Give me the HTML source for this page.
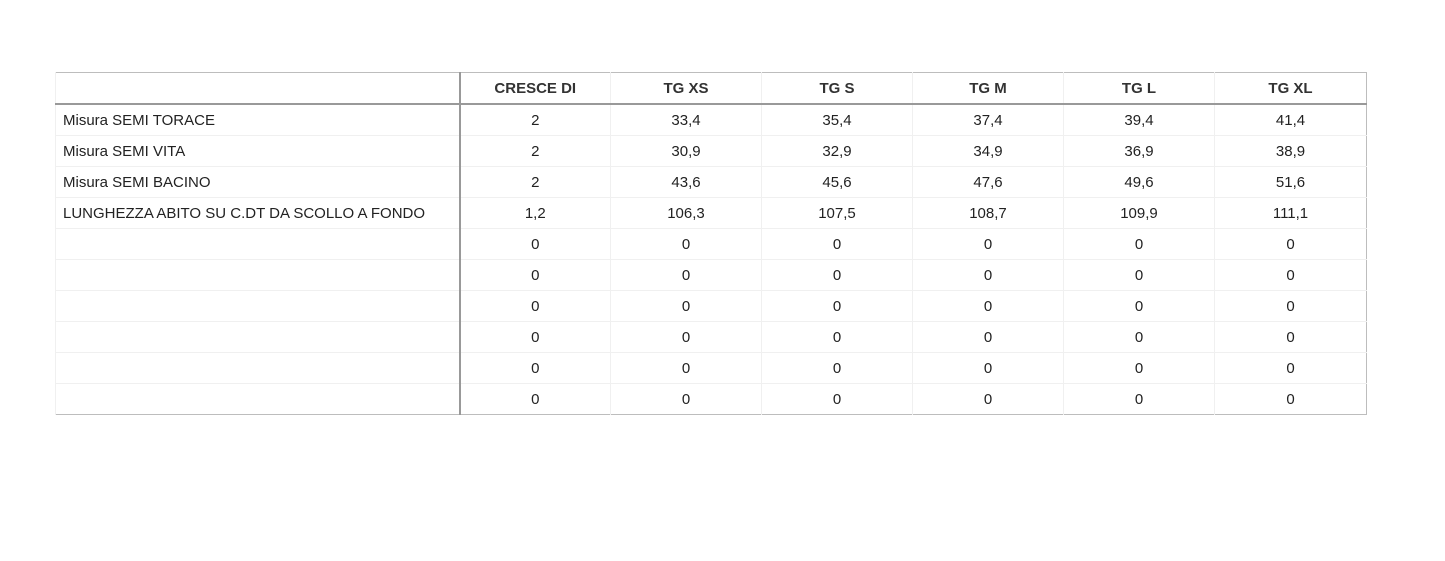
<!DOCTYPE html>
<html><head><style>
body{margin:0;width:1445px;height:561px;background:#fff;position:relative;font-family:"Liberation Sans",Arial,sans-serif;color:#222;}
table{position:absolute;left:55px;top:72px;border-collapse:collapse;border:1px solid #bdbdbd;table-layout:fixed;width:1312px;}
td,th{height:30px;padding:0;font-size:15px;text-align:center;border-left:1px solid #f0f0f0;border-top:1px solid #f0f0f0;}
th{height:29px;padding-top:1px;font-weight:bold;color:#333;border-bottom:2px solid #999;}
td.l,th.l{text-align:left;padding-left:7px;border-right:2px solid #999;}
tr:first-child th{border-top:none}
</style></head><body>
<table>
<colgroup><col style="width:404px"><col style="width:151px"><col style="width:151px"><col style="width:151px"><col style="width:151px"><col style="width:151px"><col style="width:152px"></colgroup>
<tr><th class="l"></th><th>CRESCE DI</th><th>TG XS</th><th>TG S</th><th>TG M</th><th>TG L</th><th>TG XL</th></tr>
<tr><td class="l">Misura SEMI TORACE</td><td>2</td><td>33,4</td><td>35,4</td><td>37,4</td><td>39,4</td><td>41,4</td></tr>
<tr><td class="l">Misura SEMI VITA</td><td>2</td><td>30,9</td><td>32,9</td><td>34,9</td><td>36,9</td><td>38,9</td></tr>
<tr><td class="l">Misura SEMI BACINO</td><td>2</td><td>43,6</td><td>45,6</td><td>47,6</td><td>49,6</td><td>51,6</td></tr>
<tr><td class="l">LUNGHEZZA ABITO SU C.DT DA SCOLLO A FONDO</td><td>1,2</td><td>106,3</td><td>107,5</td><td>108,7</td><td>109,9</td><td>111,1</td></tr>
<tr><td class="l"></td><td>0</td><td>0</td><td>0</td><td>0</td><td>0</td><td>0</td></tr>
<tr><td class="l"></td><td>0</td><td>0</td><td>0</td><td>0</td><td>0</td><td>0</td></tr>
<tr><td class="l"></td><td>0</td><td>0</td><td>0</td><td>0</td><td>0</td><td>0</td></tr>
<tr><td class="l"></td><td>0</td><td>0</td><td>0</td><td>0</td><td>0</td><td>0</td></tr>
<tr><td class="l"></td><td>0</td><td>0</td><td>0</td><td>0</td><td>0</td><td>0</td></tr>
<tr><td class="l"></td><td>0</td><td>0</td><td>0</td><td>0</td><td>0</td><td>0</td></tr>
</table>
</body></html>
